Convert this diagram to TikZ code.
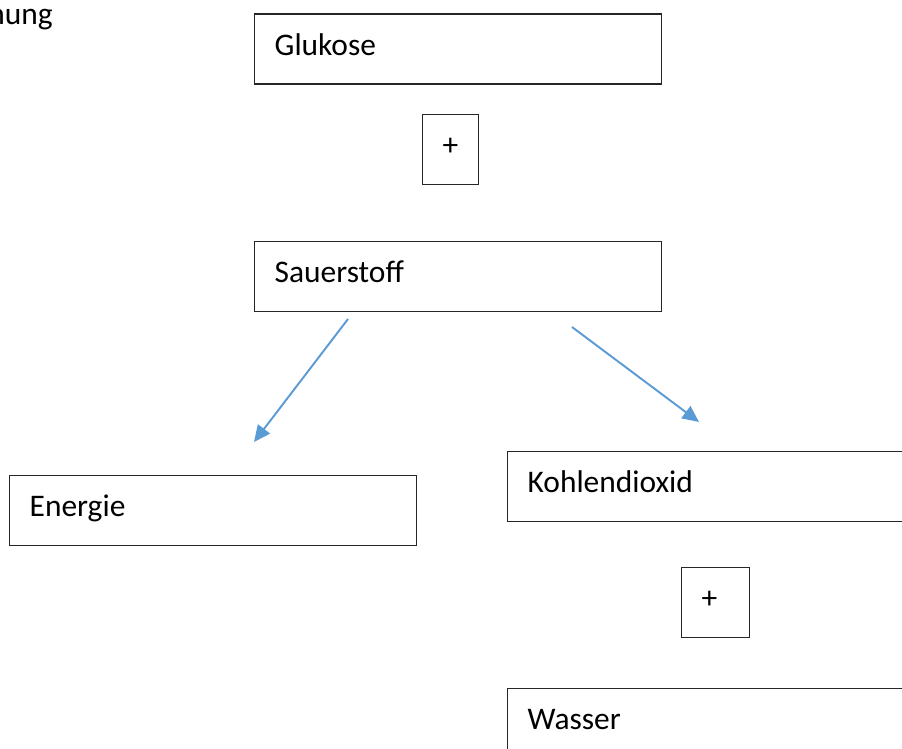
\documentclass[tikz,border=0pt]{standalone}
\usepackage{fontspec}
\setmainfont{Carlito}
\usetikzlibrary{arrows.meta}
\definecolor{pfeilblau}{HTML}{5B9BD5}
\tikzset{stoff/.style={draw=black!85, line width=0.75pt, anchor=north west, align=left,
           inner xsep=0.4cm, inner ysep=0pt, text height=0.82cm, text depth=0.58cm,
           text width=7.34cm, font=\fontsize{17.9}{21}\selectfont},
         plusbox/.style={stoff, text width=#1},
         pfeil/.style={draw=pfeilblau, line width=1.1pt,
           -{Triangle[length=0.33cm,width=0.3cm]}}}

\begin{document}
\begin{tikzpicture}[x=0.02cm, y=-0.02cm]
  \useasboundingbox (0,0) rectangle (902,749);
  \clip (0,0) rectangle (902,749);
  % cut off title
  \node[anchor=base east, inner sep=0pt, font=\fontsize{17.9}{21}\selectfont] (titel) at (53,25) {hung};
  \node[stoff] (glukose) at (254,13.5) {Glukose};
  \node[plusbox=0.32cm] (plusA) at (422,114) {+};
  \node[stoff] (sauerstoff) at (254,241) {Sauerstoff};
  \node[stoff] (energie) at (9,475) {Energie};
  \node[stoff] (kohlendioxid) at (507,451) {Kohlendioxid};
  \node[plusbox=0.56cm] (plusB) at (681,567) {+};
  \node[stoff] (wasser) at (507,688) {Wasser};
  % arrows
  \coordinate (linksA) at (348,319);
  \coordinate (linksB) at (254,442);
  \coordinate (rechtsA) at (572,327);
  \coordinate (rechtsB) at (699,422);
  \draw[pfeil] (linksA) -- (linksB);
  \draw[pfeil] (rechtsA) -- (rechtsB);
\end{tikzpicture}
\end{document}
